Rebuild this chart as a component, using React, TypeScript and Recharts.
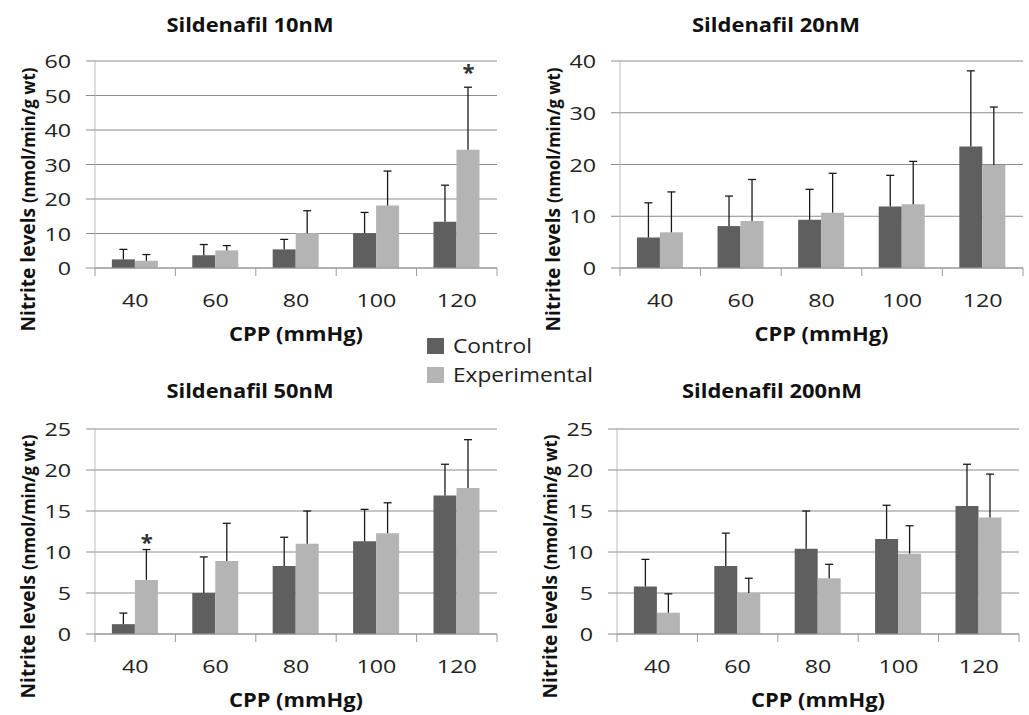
import React from "react";
import {
  BarChart,
  Bar,
  XAxis,
  YAxis,
  CartesianGrid,
  ErrorBar,
  ReferenceDot,
} from "recharts";

const FONT = "'Open Sans', 'DejaVu Sans', sans-serif";
const DIGIT_W = 13.3; // the source image is stretched sideways

const cpp = ["40", "60", "80", "100", "120"];

const series = [
  { key: "control", name: "Control", color: "#5f5f5f" },
  { key: "experimental", name: "Experimental", color: "#b4b4b4" },
];

// Sildenafil 10nM
const control10 = [2.5, 3.7, 5.4, 10.1, 13.4];
const control10Err = [2.9, 3.1, 2.9, 6.0, 10.6];
const exp10 = [2.1, 5.1, 10.1, 18.1, 34.3];
const exp10Err = [1.8, 1.4, 6.5, 10.0, 18.1];
const stars10 = ["120"];

// Sildenafil 20nM
const control20 = [5.9, 8.1, 9.3, 11.9, 23.5];
const control20Err = [6.7, 5.8, 5.9, 6.0, 14.6];
const exp20 = [6.9, 9.1, 10.7, 12.3, 19.9];
const exp20Err = [7.8, 8.0, 7.6, 8.3, 11.2];
const stars20: string[] = [];

// Sildenafil 50nM
const control50 = [1.2, 5.0, 8.3, 11.3, 16.9];
const control50Err = [1.35, 4.4, 3.5, 3.9, 3.8];
const exp50 = [6.6, 8.9, 11.0, 12.3, 17.8];
const exp50Err = [3.7, 4.6, 4.0, 3.7, 5.9];
const stars50 = ["40"];

// Sildenafil 200nM
const control200 = [5.8, 8.3, 10.4, 11.6, 15.6];
const control200Err = [3.3, 4.0, 4.6, 4.1, 5.1];
const exp200 = [2.6, 5.0, 6.8, 9.8, 14.2];
const exp200Err = [2.3, 1.8, 1.7, 3.4, 5.3];
const stars200: string[] = [];

const ticks60 = [0, 10, 20, 30, 40, 50, 60];
const ticks40 = [0, 10, 20, 30, 40];
const ticks25 = [0, 5, 10, 15, 20, 25];

function makeRows(c: number[], cErr: number[], e: number[], eErr: number[]) {
  return cpp.map((p, i) => ({
    cpp: p,
    control: c[i],
    controlErr: [0, cErr[i]],
    experimental: e[i],
    experimentalErr: [0, eErr[i]],
  }));
}

function CatTick(props: any) {
  const { x, y, payload, index, half } = props;
  const label = String(payload.value);
  return (
    <g>
      <line x1={x - half} x2={x - half} y1={y} y2={y + 8} stroke="#9a9a9a" />
      {index === cpp.length - 1 && (
        <line x1={x + half} x2={x + half} y1={y} y2={y + 8} stroke="#9a9a9a" />
      )}
      <text
        x={x}
        y={y + 39}
        textAnchor="middle"
        fontSize={19}
        fontFamily={FONT}
        fill="#222"
        textLength={label.length * DIGIT_W}
        lengthAdjust="spacingAndGlyphs"
      >
        {label}
      </text>
    </g>
  );
}

function ValueTick(props: any) {
  const { x, y, payload } = props;
  const label = String(payload.value);
  return (
    <text
      x={x}
      y={y + 7}
      textAnchor="end"
      fontSize={19}
      fontFamily={FONT}
      fill="#222"
      textLength={label.length * DIGIT_W}
      lengthAdjust="spacingAndGlyphs"
    >
      {label}
    </text>
  );
}

type Box = { left: number; top: number; width: number; height: number };
type Plot = { left: number; top: number; right: number; bottom: number };

function Panel({
  box,
  plot,
  rows,
  yMax,
  yTicks,
  stars,
  starLift,
}: {
  box: Box;
  plot: Plot;
  rows: any[];
  yMax: number;
  yTicks: number[];
  stars: string[];
  starLift: number;
}) {
  const margin = {
    top: plot.top - box.top,
    right: box.left + box.width - plot.right,
    bottom: box.top + box.height - plot.bottom - 60,
    left: plot.left - box.left - 60,
  };
  const half = (plot.right - plot.left) / cpp.length / 2;
  const starDx = half * 0.29;

  return (
    <div style={{ position: "absolute", left: box.left, top: box.top }}>
      <BarChart
        width={box.width}
        height={box.height}
        data={rows}
        margin={margin}
        barCategoryGap="21%"
        barGap={0}
      >
        <CartesianGrid vertical={false} stroke="#8c8c8c" />
        <XAxis
          dataKey="cpp"
          height={60}
          interval={0}
          tickSize={0}
          tickMargin={0}
          tickLine={false}
          axisLine={{ stroke: "#9a9a9a" }}
          tick={(p: any) => <CatTick {...p} half={half} />}
          label={{
            content: (p: any) => {
              const vb = p.viewBox;
              return (
                <text
                  x={vb.x + vb.width / 2}
                  y={vb.y + 73}
                  textAnchor="middle"
                  fontSize={19.5}
                  fontWeight="bold"
                  fontFamily={FONT}
                  fill="#111"
                  textLength={134}
                  lengthAdjust="spacingAndGlyphs"
                >
                  CPP (mmHg)
                </text>
              );
            },
          }}
        />
        <YAxis
          width={60}
          domain={[0, yMax]}
          ticks={yTicks}
          interval={0}
          tickSize={9}
          tickMargin={15}
          axisLine={{ stroke: "#bdbdbd" }}
          tickLine={{ stroke: "#8c8c8c" }}
          tick={<ValueTick />}
          label={{
            content: (p: any) => {
              const vb = p.viewBox;
              const bx = vb.x;
              const cy = vb.y + vb.height / 2 + 35;
              return (
                <text
                  x={bx}
                  y={cy}
                  transform={`rotate(-90 ${bx} ${cy})`}
                  textAnchor="middle"
                  fontFamily={FONT}
                  fontWeight="bold"
                  fill="#111"
                  textLength={264}
                  lengthAdjust="spacingAndGlyphs"
                >
                  <tspan fontSize={19.5}>Nitrite levels </tspan>
                  <tspan fontSize={17}>(nmol/min/g wt)</tspan>
                </text>
              );
            },
          }}
        />
        {series.map((s) => (
          <Bar
            key={s.key}
            dataKey={s.key}
            name={s.name}
            fill={s.color}
            isAnimationActive={false}
          >
            <ErrorBar
              dataKey={s.key + "Err"}
              direction="y"
              width={4}
              stroke="#1a1a1a"
              strokeWidth={1.3}
            />
          </Bar>
        ))}
        {stars.map((c) => {
          const r = rows.find((row) => row.cpp === c);
          return (
            <ReferenceDot
              key={c}
              x={c}
              y={r.experimental + r.experimentalErr[1]}
              r={0}
              ifOverflow="visible"
              shape={(p: any) => (
                <text
                  x={p.cx + starDx}
                  y={p.cy - starLift}
                  textAnchor="middle"
                  fontSize={22}
                  fontWeight="bold"
                  fontFamily={FONT}
                  fill="#333"
                >
                  *
                </text>
              )}
            />
          );
        })}
      </BarChart>
    </div>
  );
}

const titles = [
  { text: "Sildenafil 10nM", x: 250, y: 32, w: 167 },
  { text: "Sildenafil 20nM", x: 776, y: 32, w: 168 },
  { text: "Sildenafil 50nM", x: 250, y: 398, w: 167 },
  { text: "Sildenafil 200nM", x: 772, y: 398, w: 180 },
];

const legendWidths = [79, 140];

export default function App() {
  return (
    <div
      style={{
        position: "absolute",
        left: 0,
        top: 0,
        width: 1029,
        height: 715,
        background: "#fff",
        overflow: "hidden",
      }}
    >
      <style>{`.recharts-errorBar line:nth-of-type(3){display:none}`}</style>
      <Panel
        box={{ left: 0, top: 0, width: 515, height: 350 }}
        plot={{ left: 95, top: 61, right: 497, bottom: 268 }}
        rows={makeRows(control10, control10Err, exp10, exp10Err)}
        yMax={60}
        yTicks={ticks60}
        stars={stars10}
        starLift={7}
      />
      <Panel
        box={{ left: 515, top: 0, width: 514, height: 350 }}
        plot={{ left: 620, top: 61, right: 1023, bottom: 268 }}
        rows={makeRows(control20, control20Err, exp20, exp20Err)}
        yMax={40}
        yTicks={ticks40}
        stars={stars20}
        starLift={7}
      />
      <Panel
        box={{ left: 0, top: 350, width: 515, height: 365 }}
        plot={{ left: 95, top: 429, right: 497, bottom: 634 }}
        rows={makeRows(control50, control50Err, exp50, exp50Err)}
        yMax={25}
        yTicks={ticks25}
        stars={stars50}
        starLift={0}
      />
      <Panel
        box={{ left: 515, top: 350, width: 514, height: 365 }}
        plot={{ left: 617, top: 429, right: 1019, bottom: 634 }}
        rows={makeRows(control200, control200Err, exp200, exp200Err)}
        yMax={25}
        yTicks={ticks25}
        stars={stars200}
        starLift={7}
      />
      <svg
        width={1029}
        height={715}
        style={{ position: "absolute", left: 0, top: 0, pointerEvents: "none" }}
      >
        {titles.map((t) => (
          <text
            key={t.text}
            x={t.x}
            y={t.y}
            textAnchor="middle"
            fontSize={19.5}
            fontWeight="bold"
            fontFamily={FONT}
            fill="#111"
            textLength={t.w}
            lengthAdjust="spacingAndGlyphs"
          >
            {t.text}
          </text>
        ))}
        {series.map((s, i) => (
          <g key={s.key}>
            <rect x={427} y={338 + i * 29} width={17} height={16} fill={s.color} />
            <text
              x={453}
              y={353 + i * 29}
              fontSize={20}
              fontFamily={FONT}
              fill="#222"
              textLength={legendWidths[i]}
              lengthAdjust="spacingAndGlyphs"
            >
              {s.name}
            </text>
          </g>
        ))}
      </svg>
    </div>
  );
}
